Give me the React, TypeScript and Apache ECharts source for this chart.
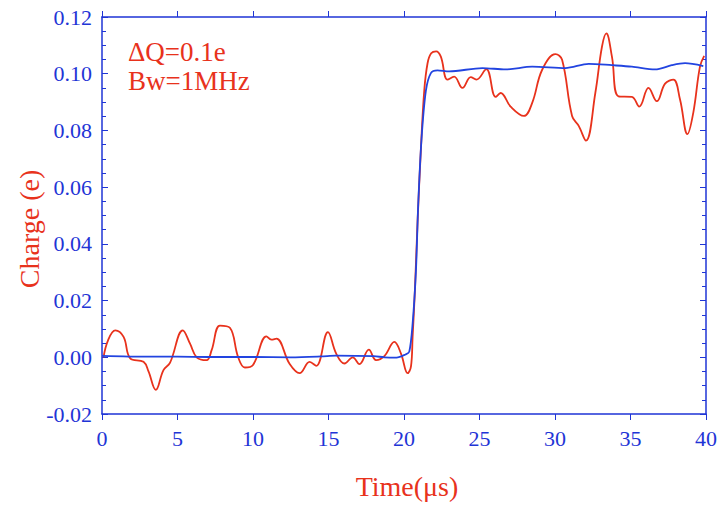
import React, { useEffect, useRef } from "react";
import * as echarts from "echarts";

const AXIS_COLOR = "#1f35d6";
const RED = "#e8321c";
const BLUE = "#2244e0";

const xTicks = [0, 5, 10, 15, 20, 25, 30, 35, 40];
const yTickLabels = ["-0.02", "0.00", "0.02", "0.04", "0.06", "0.08", "0.10", "0.12"];

const redTime = [
  0.1, 0.4, 0.88, 1.43, 1.87, 2.75, 3.08, 3.56, 4.07, 4.5, 5.35, 5.83, 6.27, 6.93, 7.26, 7.81, 8.47,
  9.02, 9.46, 10.0, 10.89, 11.22, 11.55, 12.43, 13.09, 13.75, 14.19, 14.96, 15.51, 16.06, 16.6, 17.05,
  17.67, 18.15, 18.7, 19.36, 19.8, 20.24, 20.46, 20.57, 20.72, 20.9, 21.12, 21.34, 21.56, 21.8, 22.13,
  22.44, 22.88, 23.32, 23.87, 24.42, 24.79, 25.45, 26.07, 26.4, 27.06, 27.94, 28.49, 29.15, 30.03,
  30.47, 31.13, 31.57, 32.05, 32.67, 33.11, 33.4, 33.77, 34.21, 35.09, 35.58, 36.19, 36.74, 37.29,
  37.84, 38.28, 38.77, 39.16, 39.6, 39.88,
];
const redCharge = [
  0.0, 0.006, 0.0095, 0.0072, -0.0004, -0.0016, -0.005, -0.0115, -0.0045, -0.002, 0.0095, 0.0048, 0.0,
  -0.001, 0.0025, 0.0112, 0.0104, 0.0, -0.0036, -0.0027, 0.0074, 0.0062, 0.0066, -0.0024, -0.0056,
  -0.0016, -0.003, 0.0089, 0.0013, -0.0022, 0.0, -0.0024, 0.0027, -0.001, 0.0004, 0.0054, 0.0013,
  -0.0056, -0.0033, 0.0072, 0.0234, 0.048, 0.0735, 0.094, 0.1037, 0.1072, 0.1079, 0.106, 0.0979, 0.099,
  0.095, 0.0988, 0.0979, 0.1016, 0.0918, 0.0932, 0.0884, 0.0851, 0.0897, 0.1014, 0.1069, 0.1049,
  0.0851, 0.0816, 0.0764, 0.0932, 0.1095, 0.1142, 0.106, 0.092, 0.0918, 0.0884, 0.095, 0.0903, 0.0965,
  0.0979, 0.0909, 0.0787, 0.0863, 0.1025, 0.1063,
];

const blueTime = [
  0, 3, 5, 7, 10, 12.5, 14.5, 15.5, 18, 18.7, 19.5, 20.1, 20.35, 20.57, 20.79, 20.94, 21.16, 21.45,
  21.78, 22.22, 22.99, 25.19, 26.73, 28.49, 30.69, 32.23, 33.77, 35.09, 36.63, 37.73, 38.61, 39.82,
];
const blueCharge = [
  0.0005, 0.0002, 0.0002, 0.0001, 0.0001, 0.0, 0.0003, 0.0006, 0.0004, 0.0, -0.0001, 0.001, 0.002,
  0.0118, 0.0304, 0.0537, 0.077, 0.094, 0.1002, 0.1012, 0.1008, 0.102, 0.1015, 0.1025, 0.102, 0.1035,
  0.103, 0.1025, 0.1015, 0.103, 0.1037, 0.1027,
];

const annotationLines = ["ΔQ=0.1e", "Bw=1MHz"];
const xTitle = "Time(μs)";
const yTitle = "Charge (e)";

const FONT = "'Liberation Serif', 'Times New Roman', serif";

export default function App() {
  const ref = useRef<HTMLDivElement>(null);
  useEffect(() => {
    if (!ref.current) return;
    const chart = echarts.init(ref.current, undefined, { renderer: "svg" });
    const redData = redTime.map((t, i) => [t, redCharge[i]]);
    const blueData = blueTime.map((t, i) => [t, blueCharge[i]]);
    const axisLine = { show: true, onZero: false, lineStyle: { color: AXIS_COLOR, width: 1.5 } };
    chart.setOption({
      animation: false,
      backgroundColor: "#ffffff",
      textStyle: { fontFamily: FONT },
      grid: { left: 102, right: 12, top: 17, bottom: 88, containLabel: false },
      xAxis: [
        {
          type: "value",
          position: "bottom",
          min: xTicks[0],
          max: xTicks[xTicks.length - 1],
          interval: 5,
          axisLine,
          axisTick: { show: true, inside: false, length: 6, lineStyle: { color: AXIS_COLOR } },
          axisLabel: { color: AXIS_COLOR, fontSize: 22, fontFamily: FONT, margin: 13 },
          splitLine: { show: false },
          name: xTitle,
          nameLocation: "middle",
          nameGap: 58,
          nameTextStyle: { color: RED, fontSize: 28, fontFamily: FONT, padding: [0, 0, 0, 6] },
        },
        {
          type: "value",
          position: "top",
          min: 0,
          max: 40,
          interval: 5,
          axisLine,
          axisTick: { show: true, inside: false, length: 6, lineStyle: { color: AXIS_COLOR } },
          axisLabel: { show: false },
          splitLine: { show: false },
        },
      ],
      yAxis: [
        {
          type: "value",
          position: "left",
          min: -0.02,
          max: 0.12,
          interval: 0.02,
          axisLine,
          axisTick: { show: true, inside: true, length: 6, lineStyle: { color: AXIS_COLOR } },
          minorTick: { show: true, splitNumber: 4, length: 4, lineStyle: { color: AXIS_COLOR } },
          axisLabel: {
            color: AXIS_COLOR,
            fontSize: 22,
            fontFamily: FONT,
            margin: 10,
            formatter: (v: number) => {
              const idx = Math.round((v + 0.02) / 0.02);
              return yTickLabels[idx] ?? v.toFixed(2);
            },
          },
          splitLine: { show: false },
          minorSplitLine: { show: false },
        },
        {
          type: "value",
          position: "right",
          min: -0.02,
          max: 0.12,
          interval: 0.02,
          axisLine,
          axisTick: { show: true, inside: true, length: 6, lineStyle: { color: AXIS_COLOR } },
          minorTick: { show: true, splitNumber: 4, length: 4, lineStyle: { color: AXIS_COLOR } },
          axisLabel: { show: false },
          splitLine: { show: false },
          minorSplitLine: { show: false },
        },
      ],
      graphic: [
        {
          type: "text",
          left: 128,
          top: 37,
          style: {
            text: annotationLines.join("\n"),
            fill: RED,
            font: `27px ${FONT}`,
            lineHeight: 29,
          },
        },
        {
          type: "text",
          x: 29,
          y: 229,
          rotation: Math.PI / 2,
          style: {
            text: yTitle,
            fill: RED,
            font: `28px ${FONT}`,
            textAlign: "center",
            textVerticalAlign: "middle",
          },
        },
      ],
      series: [
        {
          type: "line",
          data: redData,
          xAxisIndex: 0,
          yAxisIndex: 0,
          showSymbol: false,
          smooth: 0.4,
          lineStyle: { color: RED, width: 1.8 },
          z: 2,
        },
        {
          type: "line",
          data: blueData,
          xAxisIndex: 0,
          yAxisIndex: 0,
          showSymbol: false,
          smooth: 0.3,
          lineStyle: { color: BLUE, width: 1.8 },
          z: 3,
        },
      ],
    });
    return () => chart.dispose();
  }, []);
  return (
    <div
      ref={ref}
      style={{ position: "fixed", left: 0, top: 0, width: 720, height: 505, background: "#fff" }}
    />
  );
}
